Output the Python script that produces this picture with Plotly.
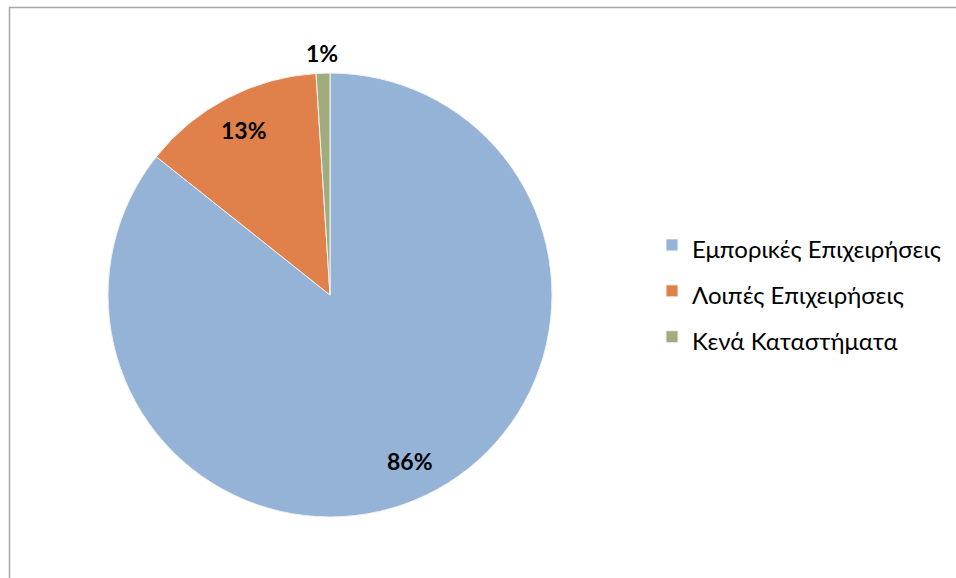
import math
import plotly.graph_objects as go

labels = ["Εμπορικές Επιχειρήσεις", "Λοιπές Επιχειρήσεις", "Κενά Καταστήματα"]
values = [85.7, 13.3, 1.0]
colors = ["#95B3D7", "#E0804A", "#A0AC7E"]
label_radius = [0.83, 0.84, 1.09]  # label distance as fraction of pie radius

W, H = 956, 578
dom_x = [108 / W, 552 / W]
dom_y = [1 - 517 / H, 1 - 73 / H]

legend_labels = ['<span style="font-size:24px">%s</span>' % l for l in labels]

fig = go.Figure(
    go.Pie(
        labels=legend_labels,
        values=values,
        sort=False,
        direction="clockwise",
        rotation=0,
        marker=dict(colors=colors, line=dict(color="#F2F2F2", width=1)),
        textinfo="none",
        hoverinfo="label+percent",
        domain=dict(x=dom_x, y=dom_y),
    )
)

# percentage labels placed at each slice's mid-angle (derived from values)
total = sum(values)
cx = (dom_x[0] + dom_x[1]) / 2 * W
cy = (1 - (dom_y[0] + dom_y[1]) / 2) * H
R = min((dom_x[1] - dom_x[0]) * W, (dom_y[1] - dom_y[0]) * H) / 2
annotations = []
cum = 0.0
for v, rf in zip(values, label_radius):
    mid = (cum + v / 2) / total * 2 * math.pi
    cum += v
    px = cx + rf * R * math.sin(mid)
    py = cy - rf * R * math.cos(mid)
    annotations.append(
        dict(
            x=px / W,
            y=1 - py / H,
            xref="paper",
            yref="paper",
            text="%d%%" % round(v / total * 100),
            showarrow=False,
            xanchor="center",
            yanchor="middle",
            font=dict(family="Lato", size=23, color="black", weight="bold"),
        )
    )

fig.update_layout(
    width=W,
    height=H,
    margin=dict(l=0, r=0, t=0, b=0),
    paper_bgcolor="white",
    plot_bgcolor="white",
    showlegend=True,
    legend=dict(
        x=652 / W,
        y=1 - 291 / H,
        xanchor="left",
        yanchor="middle",
        font=dict(family="Lato", size=33, color="black"),
    ),
    annotations=annotations,
    shapes=[
        dict(
            type="rect",
            xref="paper",
            yref="paper",
            x0=9.5 / W,
            x1=1.2,
            y0=-0.2,
            y1=1 - 7.5 / H,
            line=dict(color="#A6A6A6", width=1.5),
            fillcolor="rgba(0,0,0,0)",
            layer="below",
        )
    ],
)

fig.write_html(
    "out.html",
    config={"displayModeBar": False},
    post_script="document.body.style.margin='0';document.body.style.overflow='hidden';",
)
